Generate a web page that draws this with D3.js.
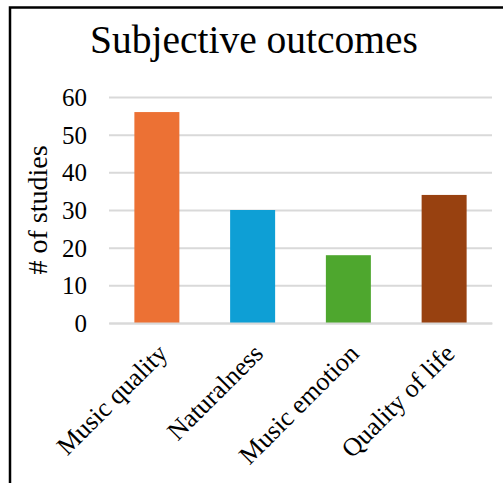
<!DOCTYPE html>
<html>
<head>
<meta charset="utf-8">
<script src="https://cdn.jsdelivr.net/npm/d3@7"></script>
<style>
  body { margin: 0; background: #fff; }
  svg { display: block; font-family: "Liberation Serif", "Times New Roman", serif; }
</style>
</head>
<body>
<div id="container"></div>
<script>
/* DATA */
const categories = ["Music quality", "Naturalness", "Music emotion", "Quality of life"];
const studies = [56, 30, 18, 34];
const barColors = ["#EC7134", "#0E9FD5", "#4EA72E", "#984110"];
const yTicks = [0, 10, 20, 30, 40, 50, 60];

/* CONSTANTS */
const width = 503,
      height = 483,
      margin = {top: 97, bottom: 160, left: 109, right: 11};

const data = categories.map((c, i) => ({category: c, value: studies[i], color: barColors[i]}));

const svg = d3.select("#container")
  .append("svg")
    .attr("width", width)
    .attr("height", height);

// frame (only top and left edges are inside the picture)
svg.append("rect")
  .attr("x", 10)
  .attr("y", 7.5)
  .attr("width", 700)
  .attr("height", 700)
  .attr("fill", "none")
  .attr("stroke", "#000")
  .attr("stroke-width", 2.5);

/* SCALES */
const xScale = d3.scaleBand()
  .domain(categories)
  .range([margin.left, width - margin.right])
  .paddingInner(0.53)
  .paddingOuter(0.265);

const yScale = d3.scaleLinear()
  .domain([0, 60])
  .range([height - margin.bottom, margin.top]);

/* Y AXIS + GRIDLINES */
const yAxisGroup = svg.append("g")
  .attr("transform", `translate(${margin.left},0)`)
  .call(d3.axisLeft(yScale)
    .tickValues(yTicks)
    .tickSize(-(width - margin.left - margin.right))
    .tickPadding(22));

yAxisGroup.select(".domain").remove();
yAxisGroup.selectAll(".tick line")
  .attr("stroke", "#D9D9D9")
  .attr("stroke-width", 2);
yAxisGroup.selectAll(".tick text")
  .attr("font-family", "Liberation Serif, serif")
  .attr("font-size", "25px")
  .attr("fill", "#000")
  .attr("dy", "0.34em");

/* BARS */
svg.selectAll("rect.bar")
  .data(data)
  .join("rect")
    .attr("class", "bar")
    .attr("x", d => xScale(d.category))
    .attr("y", d => yScale(d.value))
    .attr("width", xScale.bandwidth())
    .attr("height", d => yScale(0) - yScale(d.value))
    .attr("fill", d => d.color);

/* X AXIS */
const xAxisGroup = svg.append("g")
  .attr("transform", `translate(0,${yScale(0)})`)
  .call(d3.axisBottom(xScale).tickSize(0).tickSizeOuter(0));

xAxisGroup.select(".domain")
  .attr("stroke", "#D9D9D9")
  .attr("stroke-width", 2);

xAxisGroup.selectAll(".tick text")
  .attr("y", null)
  .attr("dy", null)
  .attr("font-family", "Liberation Serif, serif")
  .attr("font-size", "26px")
  .attr("fill", "#000")
  .attr("text-anchor", "end")
  .attr("transform", "translate(12,32) rotate(-45)");

/* LABELS */
svg.append("text")
  .attr("x", 254)
  .attr("y", 53)
  .attr("text-anchor", "middle")
  .attr("font-size", "39.5px")
  .text("Subjective outcomes");

svg.append("text")
  .attr("transform", `translate(47,${(yScale(0) + yScale(60)) / 2}) rotate(-90)`)
  .attr("text-anchor", "middle")
  .attr("font-size", "28px")
  .text("# of studies");
</script>
</body>
</html>
